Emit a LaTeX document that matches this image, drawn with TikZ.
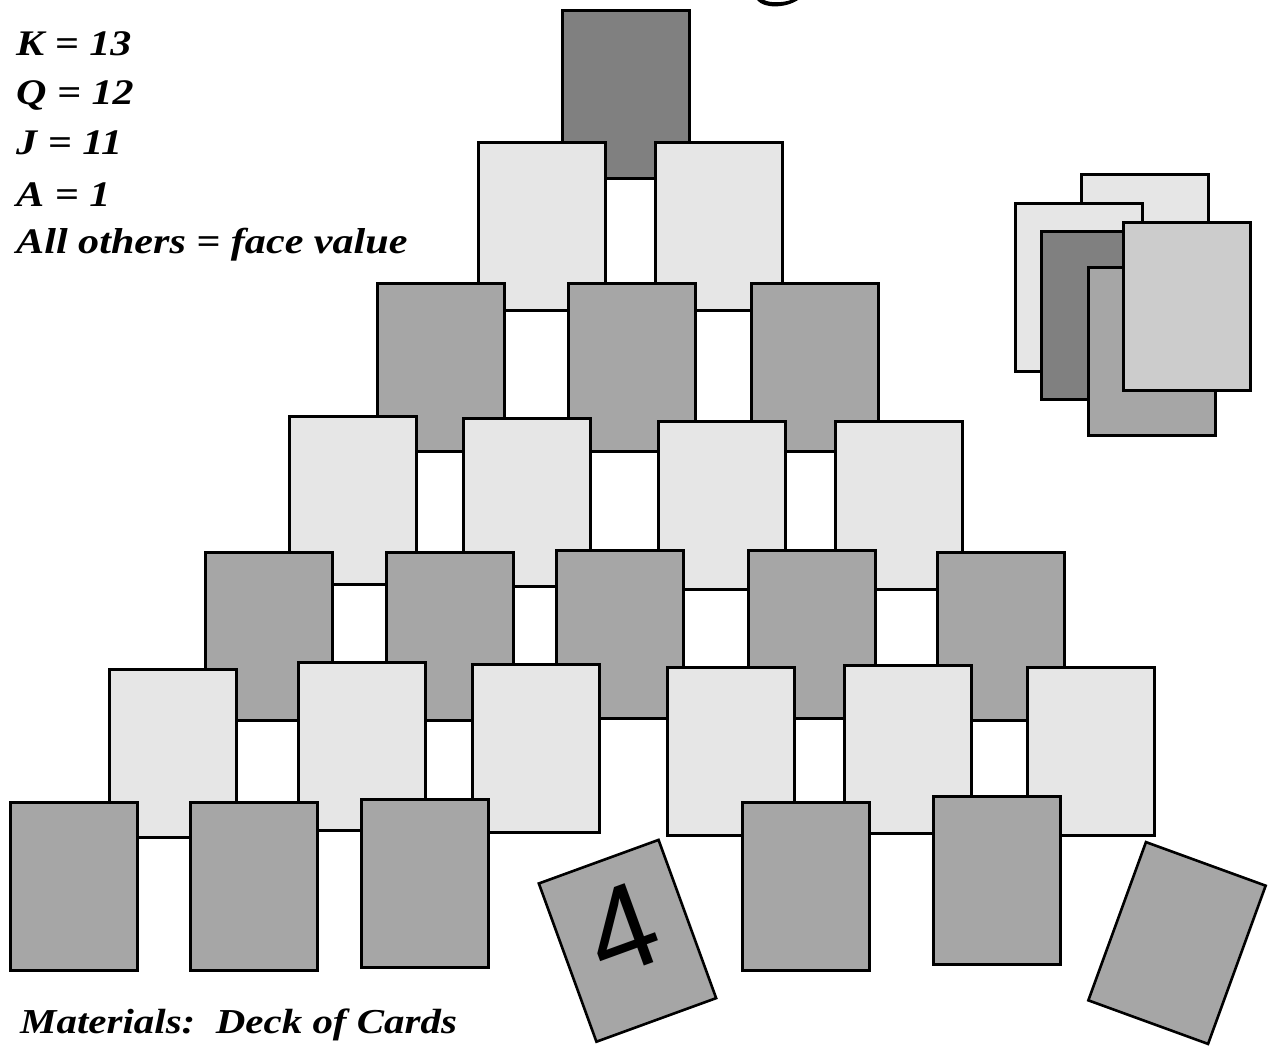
\documentclass[tikz,border=0pt]{standalone}
\usepackage{fontspec}
\setmainfont{Liberation Serif}
\newfontfamily\digitfont{Liberation Sans}
\definecolor{cdark}{HTML}{808080}
\definecolor{cmid}{HTML}{A6A6A6}
\definecolor{clight}{HTML}{E6E6E6}
\definecolor{cfront}{HTML}{CCCCCC}
\tikzset{
  card/.style={draw=black, line width=2.6pt, rectangle, minimum width=127.4pt, minimum height=168.4pt, inner sep=0pt, outer sep=0pt},
  dk/.style={card, fill=cdark},
  md/.style={card, fill=cmid},
  lt/.style={card, fill=clight},
  fr/.style={card, fill=cfront},
  lbl/.style={anchor=base west, inner sep=0pt, font=\fontsize{36}{40}\selectfont\bfseries\itshape},
}
\newcommand{\wide}[1]{\scalebox{1.17}[1]{#1}}
\begin{document}
\begin{tikzpicture}[x=1pt,y=-1pt]
\useasboundingbox[fill=white] (0,0) rectangle (1270,1047);
% fragment of cut-off title glyph
\fill[black] (757,0) .. controls (764,9) and (786,8) .. (798,0) -- (791,0) .. controls (782,3) and (770,3) .. (764,0) -- cycle;
% row 1
\node[dk] (r1a) at (626,94.5) {};
% row 2
\node[lt] (r2a) at (542,226.5) {};
\node[lt] (r2b) at (719,226.5) {};
% row 3
\node[md] (r3a) at (441,367.5) {};
\node[md] (r3b) at (632,367.5) {};
\node[md] (r3c) at (815,367.5) {};
% row 4
\node[lt] (r4a) at (353,500.5) {};
\node[lt] (r4b) at (527,502.5) {};
\node[lt] (r4c) at (722,505.5) {};
\node[lt] (r4d) at (899,505.5) {};
% row 5
\node[md] (r5a) at (269,636.5) {};
\node[md] (r5b) at (450,636.5) {};
\node[md] (r5c) at (620,634.5) {};
\node[md] (r5d) at (812,634.5) {};
\node[md] (r5e) at (1001,636.5) {};
% row 6
\node[lt] (r6a) at (173,753.5) {};
\node[lt] (r6b) at (362,746.5) {};
\node[lt] (r6c) at (536,748.5) {};
\node[lt] (r6d) at (731,751.5) {};
\node[lt] (r6e) at (908,749.5) {};
\node[lt] (r6f) at (1091,751.5) {};
% row 7
\node[md] (r7a) at (74,886.5) {};
\node[md] (r7b) at (254,886.5) {};
\node[md] (r7c) at (425,883.5) {};
\node[md, rotate=20] (r7d) at (627.5,940.8) {};
\node[md] (r7e) at (806,886.5) {};
\node[md] (r7f) at (997,880.5) {};
\node[md, rotate=-20] (r7g) at (1177,943) {};
\node[rotate=20, inner sep=0pt, font=\digitfont\fontsize{122}{122}\selectfont] (four) at (622,929) {4};
% right stack
\node[lt] (s1) at (1145,258.5) {};
\node[lt] (s2) at (1079,287.5) {};
\node[dk] (s3) at (1105,315.5) {};
\node[md] (s4) at (1152,351.5) {};
\node[fr] (s5) at (1187,306.5) {};
% texts
\node[lbl] (tk) at (16,55) {\wide{K = 13}};
\node[lbl] (tq) at (16,104) {\wide{Q = 12}};
\node[lbl] (tj) at (16,154) {\wide{J = 11}};
\node[lbl] (ta) at (16,206) {\wide{A = 1}};
\node[lbl] (to) at (16,253) {\wide{All others = face value}};
\node[lbl, font=\fontsize{35}{40}\selectfont\bfseries\itshape] (tm) at (20,1033) {\wide{Materials:\ \ Deck of Cards}};
\end{tikzpicture}
\end{document}
